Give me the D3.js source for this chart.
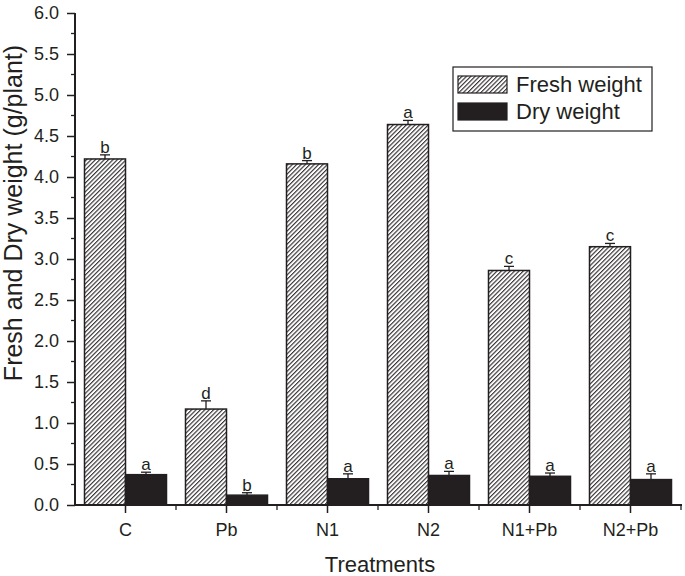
<!DOCTYPE html>
<html><head><meta charset="utf-8">
<script src="https://cdn.jsdelivr.net/npm/d3@7"></script>
<style>body{margin:0;background:#fff}svg{display:block;font-family:"Liberation Sans",Arial,sans-serif}</style>
</head><body><svg id="c" width="685" height="576"></svg>
<script>
const categories = ["C","Pb","N1","N2","N1+Pb","N2+Pb"];
const seriesNames = ["Fresh weight","Dry weight"];
const freshValues = [4.22,1.17,4.16,4.64,2.86,3.15];
const freshErrors = [0.05,0.10,0.04,0.05,0.05,0.04];
const freshLetters = ["b","d","b","a","c","c"];
const dryValues = [0.37,0.12,0.32,0.36,0.35,0.31];
const dryErrors = [0.03,0.03,0.06,0.05,0.04,0.07];
const dryLetters = ["a","b","a","a","a","a"];
const yTicks = [0,0.5,1,1.5,2,2.5,3,3.5,4,4.5,5,5.5,6];

const ink = "#231f20";
const svg = d3.select("#c");
const defs = svg.append("defs");
const pat = defs.append("pattern").attr("id","hatch").attr("patternUnits","userSpaceOnUse")
  .attr("width",3.1).attr("height",3.1).attr("patternTransform","rotate(45)");
pat.append("rect").attr("width",3.1).attr("height",3.1).attr("fill","#fff");
pat.append("line").attr("x1",0.6).attr("y1",0).attr("x2",0.6).attr("y2",3.1).attr("stroke",ink).attr("stroke-width",1.05);

const pLeft = 75, pRight = 681, pTop = 13, pBottom = 505;
const x0 = d3.scaleBand().domain(categories).range([pLeft,pRight]).padding(0);
const bw = x0.bandwidth();
const x1 = d3.scaleBand().domain(seriesNames).range([bw/2-41, bw/2+41]).padding(0);
const y = d3.scaleLinear().domain([0,6]).range([pBottom,pTop]);

const data = categories.map((c,i)=>[
  {cat:c, s:seriesNames[0], v:freshValues[i], e:freshErrors[i], l:freshLetters[i]},
  {cat:c, s:seriesNames[1], v:dryValues[i], e:dryErrors[i], l:dryLetters[i]}
]).flat();

const g = svg.append("g");
g.selectAll("rect.bar").data(data).join("rect").attr("class","bar")
  .attr("x",d=>x0(d.cat)+x1(d.s)).attr("width",x1.bandwidth())
  .attr("y",d=>y(d.v)).attr("height",d=>y(0)-y(d.v))
  .attr("fill",d=>d.s===seriesNames[0]?"url(#hatch)":ink)
  .attr("stroke",ink).attr("stroke-width",1.5);

// error bars
data.forEach(d=>{
  const cx = x0(d.cat)+x1(d.s)+x1.bandwidth()/2;
  g.append("line").attr("x1",cx).attr("x2",cx).attr("y1",y(d.v)).attr("y2",y(d.v+d.e)).attr("stroke",ink).attr("stroke-width",1.3);
  g.append("line").attr("x1",cx-5).attr("x2",cx+5).attr("y1",y(d.v+d.e)).attr("y2",y(d.v+d.e)).attr("stroke",ink).attr("stroke-width",1.3);
  g.append("text").attr("x",cx).attr("y",y(d.v+d.e)-2).attr("text-anchor","middle")
    .attr("font-size",17).attr("fill",ink).text(d.l);
});

// Y axis
const yAxis = svg.append("g").attr("transform",`translate(${pLeft},0)`)
  .call(d3.axisLeft(y).tickValues(yTicks).tickFormat(d3.format(".1f")).tickSize(8).tickPadding(8));
yAxis.select(".domain").attr("stroke",ink).attr("stroke-width",2).attr("d",`M0,${pTop}V${pBottom}`);
yAxis.selectAll(".tick line").attr("stroke",ink).attr("stroke-width",1.5);
yAxis.selectAll(".tick text").attr("font-size",18).attr("fill",ink).attr("font-family","Liberation Sans, Arial, sans-serif");
const minorY = d3.range(0.25,6,0.5);
svg.append("g").selectAll("line").data(minorY).join("line")
  .attr("x1",pLeft-4).attr("x2",pLeft).attr("y1",d=>y(d)).attr("y2",d=>y(d)).attr("stroke",ink).attr("stroke-width",1.3);

// X axis
const xAxis = svg.append("g").attr("transform",`translate(0,${pBottom})`)
  .call(d3.axisBottom(x0).tickSize(8).tickPadding(10));
xAxis.select(".domain").attr("stroke",ink).attr("stroke-width",2).attr("d",`M${pLeft-1},0H${pRight+1}`);
xAxis.selectAll(".tick line").attr("stroke",ink).attr("stroke-width",1.5);
xAxis.selectAll(".tick text").attr("font-size",18).attr("fill",ink).attr("font-family","Liberation Sans, Arial, sans-serif");
svg.append("g").selectAll("line").data(categories.slice(1).concat(["__end"])).join("line")
  .attr("x1",d=>d==="__end"?pRight:x0(d)).attr("x2",d=>d==="__end"?pRight:x0(d))
  .attr("y1",pBottom).attr("y2",pBottom+5).attr("stroke",ink).attr("stroke-width",1.3);

// titles
svg.append("text").attr("transform",`translate(22,213) rotate(-90)`).attr("text-anchor","middle")
  .attr("font-size",25).attr("fill",ink).text("Fresh and Dry weight (g/plant)");
svg.append("text").attr("x",380).attr("y",572).attr("text-anchor","middle")
  .attr("font-size",22).attr("fill",ink).text("Treatments");

// legend
const lg = svg.append("g").attr("transform","translate(453,67)");
lg.append("rect").attr("width",199).attr("height",64).attr("fill","#fff").attr("stroke",ink).attr("stroke-width",1.2);
seriesNames.forEach((s,i)=>{
  lg.append("rect").attr("x",5).attr("y",9+i*27).attr("width",49).attr("height",17)
    .attr("fill",i===0?"url(#hatch)":ink).attr("stroke",ink).attr("stroke-width",1.2);
  lg.append("text").attr("x",63).attr("y",25+i*27).attr("font-size",22).attr("fill",ink).text(s);
});
</script></body></html>
